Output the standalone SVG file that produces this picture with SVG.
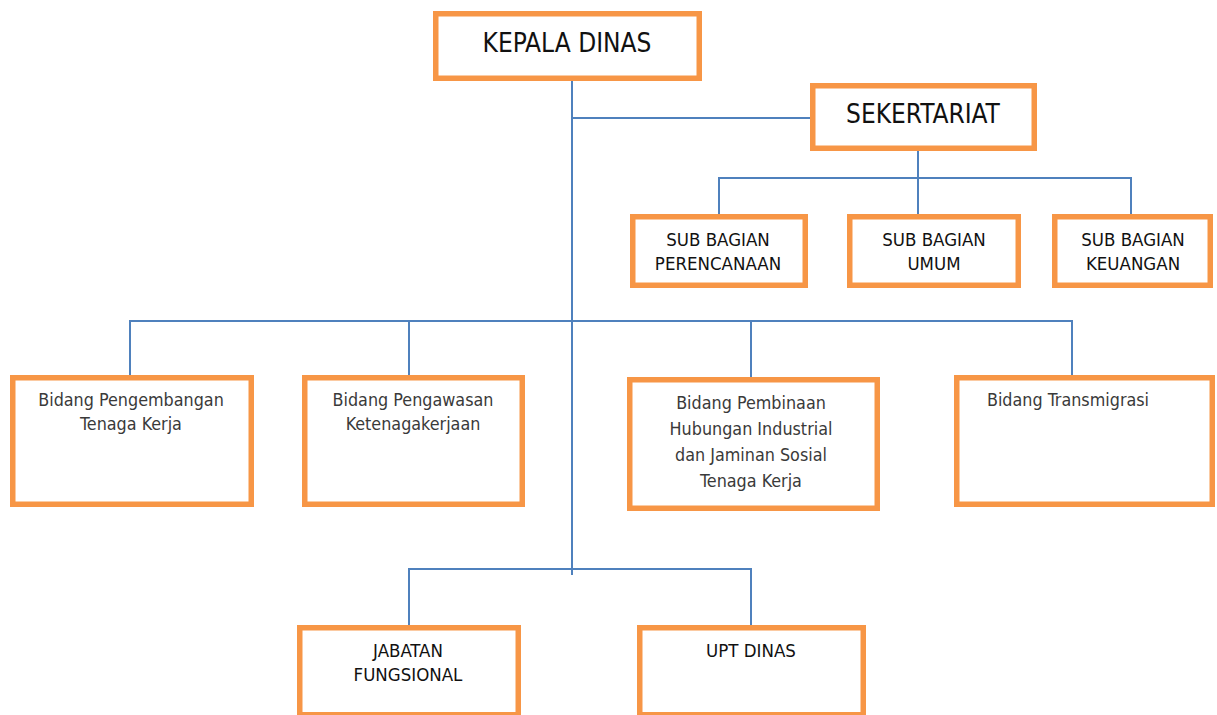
<svg xmlns="http://www.w3.org/2000/svg" width="1217" height="715" viewBox="0 0 1217 715">
<style>
.box{fill:#fff;stroke:#F79646;stroke-width:5.5}
.ln{stroke:#4F81BD;stroke-width:2;fill:none}
.t{font-family:"DejaVu Sans Condensed","DejaVu Sans",sans-serif;text-anchor:middle;fill:#111}
.big{font-size:26px}
.sm{font-size:18.5px}
.bd{font-size:17.8px;fill:#3a3a3a}
</style>
<rect width="1217" height="715" fill="#fff"/>
<g id="connectors">
<line class="ln" x1="572" y1="79" x2="572" y2="575"/>
<line class="ln" x1="572" y1="118" x2="812" y2="118"/>
<line class="ln" x1="918" y1="149" x2="918" y2="216"/>
<polyline class="ln" points="719,216 719,178 1131,178 1131,216"/>
<polyline class="ln" points="130,377 130,321 1072,321 1072,377"/>
<line class="ln" x1="409" y1="321" x2="409" y2="377"/>
<line class="ln" x1="751" y1="321" x2="751" y2="379"/>
<polyline class="ln" points="409,627 409,569 751,569 751,627"/>
</g>
<g id="kepala">
<rect class="box" x="435.75" y="13.75" width="263.5" height="64.5"/>
<text class="t big" x="567" y="52">KEPALA DINAS</text>
</g>
<g id="sekertariat">
<rect class="box" x="812.75" y="85.75" width="221.5" height="62.5"/>
<text class="t big" x="923" y="123">SEKERTARIAT</text>
</g>
<g id="perencanaan">
<rect class="box" x="632.75" y="216.75" width="172.5" height="68.5"/>
<text class="t sm" x="718" y="246">SUB BAGIAN</text>
<text class="t sm" x="718" y="270">PERENCANAAN</text>
</g>
<g id="umum">
<rect class="box" x="849.75" y="216.75" width="168.5" height="68.5"/>
<text class="t sm" x="934" y="246">SUB BAGIAN</text>
<text class="t sm" x="934" y="270">UMUM</text>
</g>
<g id="keuangan">
<rect class="box" x="1054.75" y="216.75" width="155.5" height="68.5"/>
<text class="t sm" x="1133" y="246">SUB BAGIAN</text>
<text class="t sm" x="1133" y="270">KEUANGAN</text>
</g>
<g id="pengembangan">
<rect class="box" x="12.75" y="377.75" width="238.5" height="126.5"/>
<text class="t bd" x="131" y="406">Bidang Pengembangan</text>
<text class="t bd" x="131" y="430">Tenaga Kerja</text>
</g>
<g id="pengawasan">
<rect class="box" x="304.75" y="377.75" width="217.5" height="126.5"/>
<text class="t bd" x="413" y="406">Bidang Pengawasan</text>
<text class="t bd" x="413" y="430">Ketenagakerjaan</text>
</g>
<g id="pembinaan">
<rect class="box" x="629.75" y="379.75" width="247.5" height="128.5"/>
<text class="t bd" x="751" y="409">Bidang Pembinaan</text>
<text class="t bd" x="751" y="435">Hubungan Industrial</text>
<text class="t bd" x="751" y="461">dan Jaminan Sosial</text>
<text class="t bd" x="751" y="487">Tenaga Kerja</text>
</g>
<g id="transmigrasi">
<rect class="box" x="956.75" y="377.75" width="255.5" height="126.5"/>
<text class="t bd" x="1068" y="406">Bidang Transmigrasi</text>
</g>
<g id="jabatan">
<rect class="box" x="299.75" y="627.75" width="218.5" height="87"/>
<text class="t sm" x="408" y="657">JABATAN</text>
<text class="t sm" x="408" y="681">FUNGSIONAL</text>
</g>
<g id="upt">
<rect class="box" x="639.75" y="627.75" width="223.5" height="87"/>
<text class="t sm" x="751" y="657">UPT DINAS</text>
</g>
</svg>
